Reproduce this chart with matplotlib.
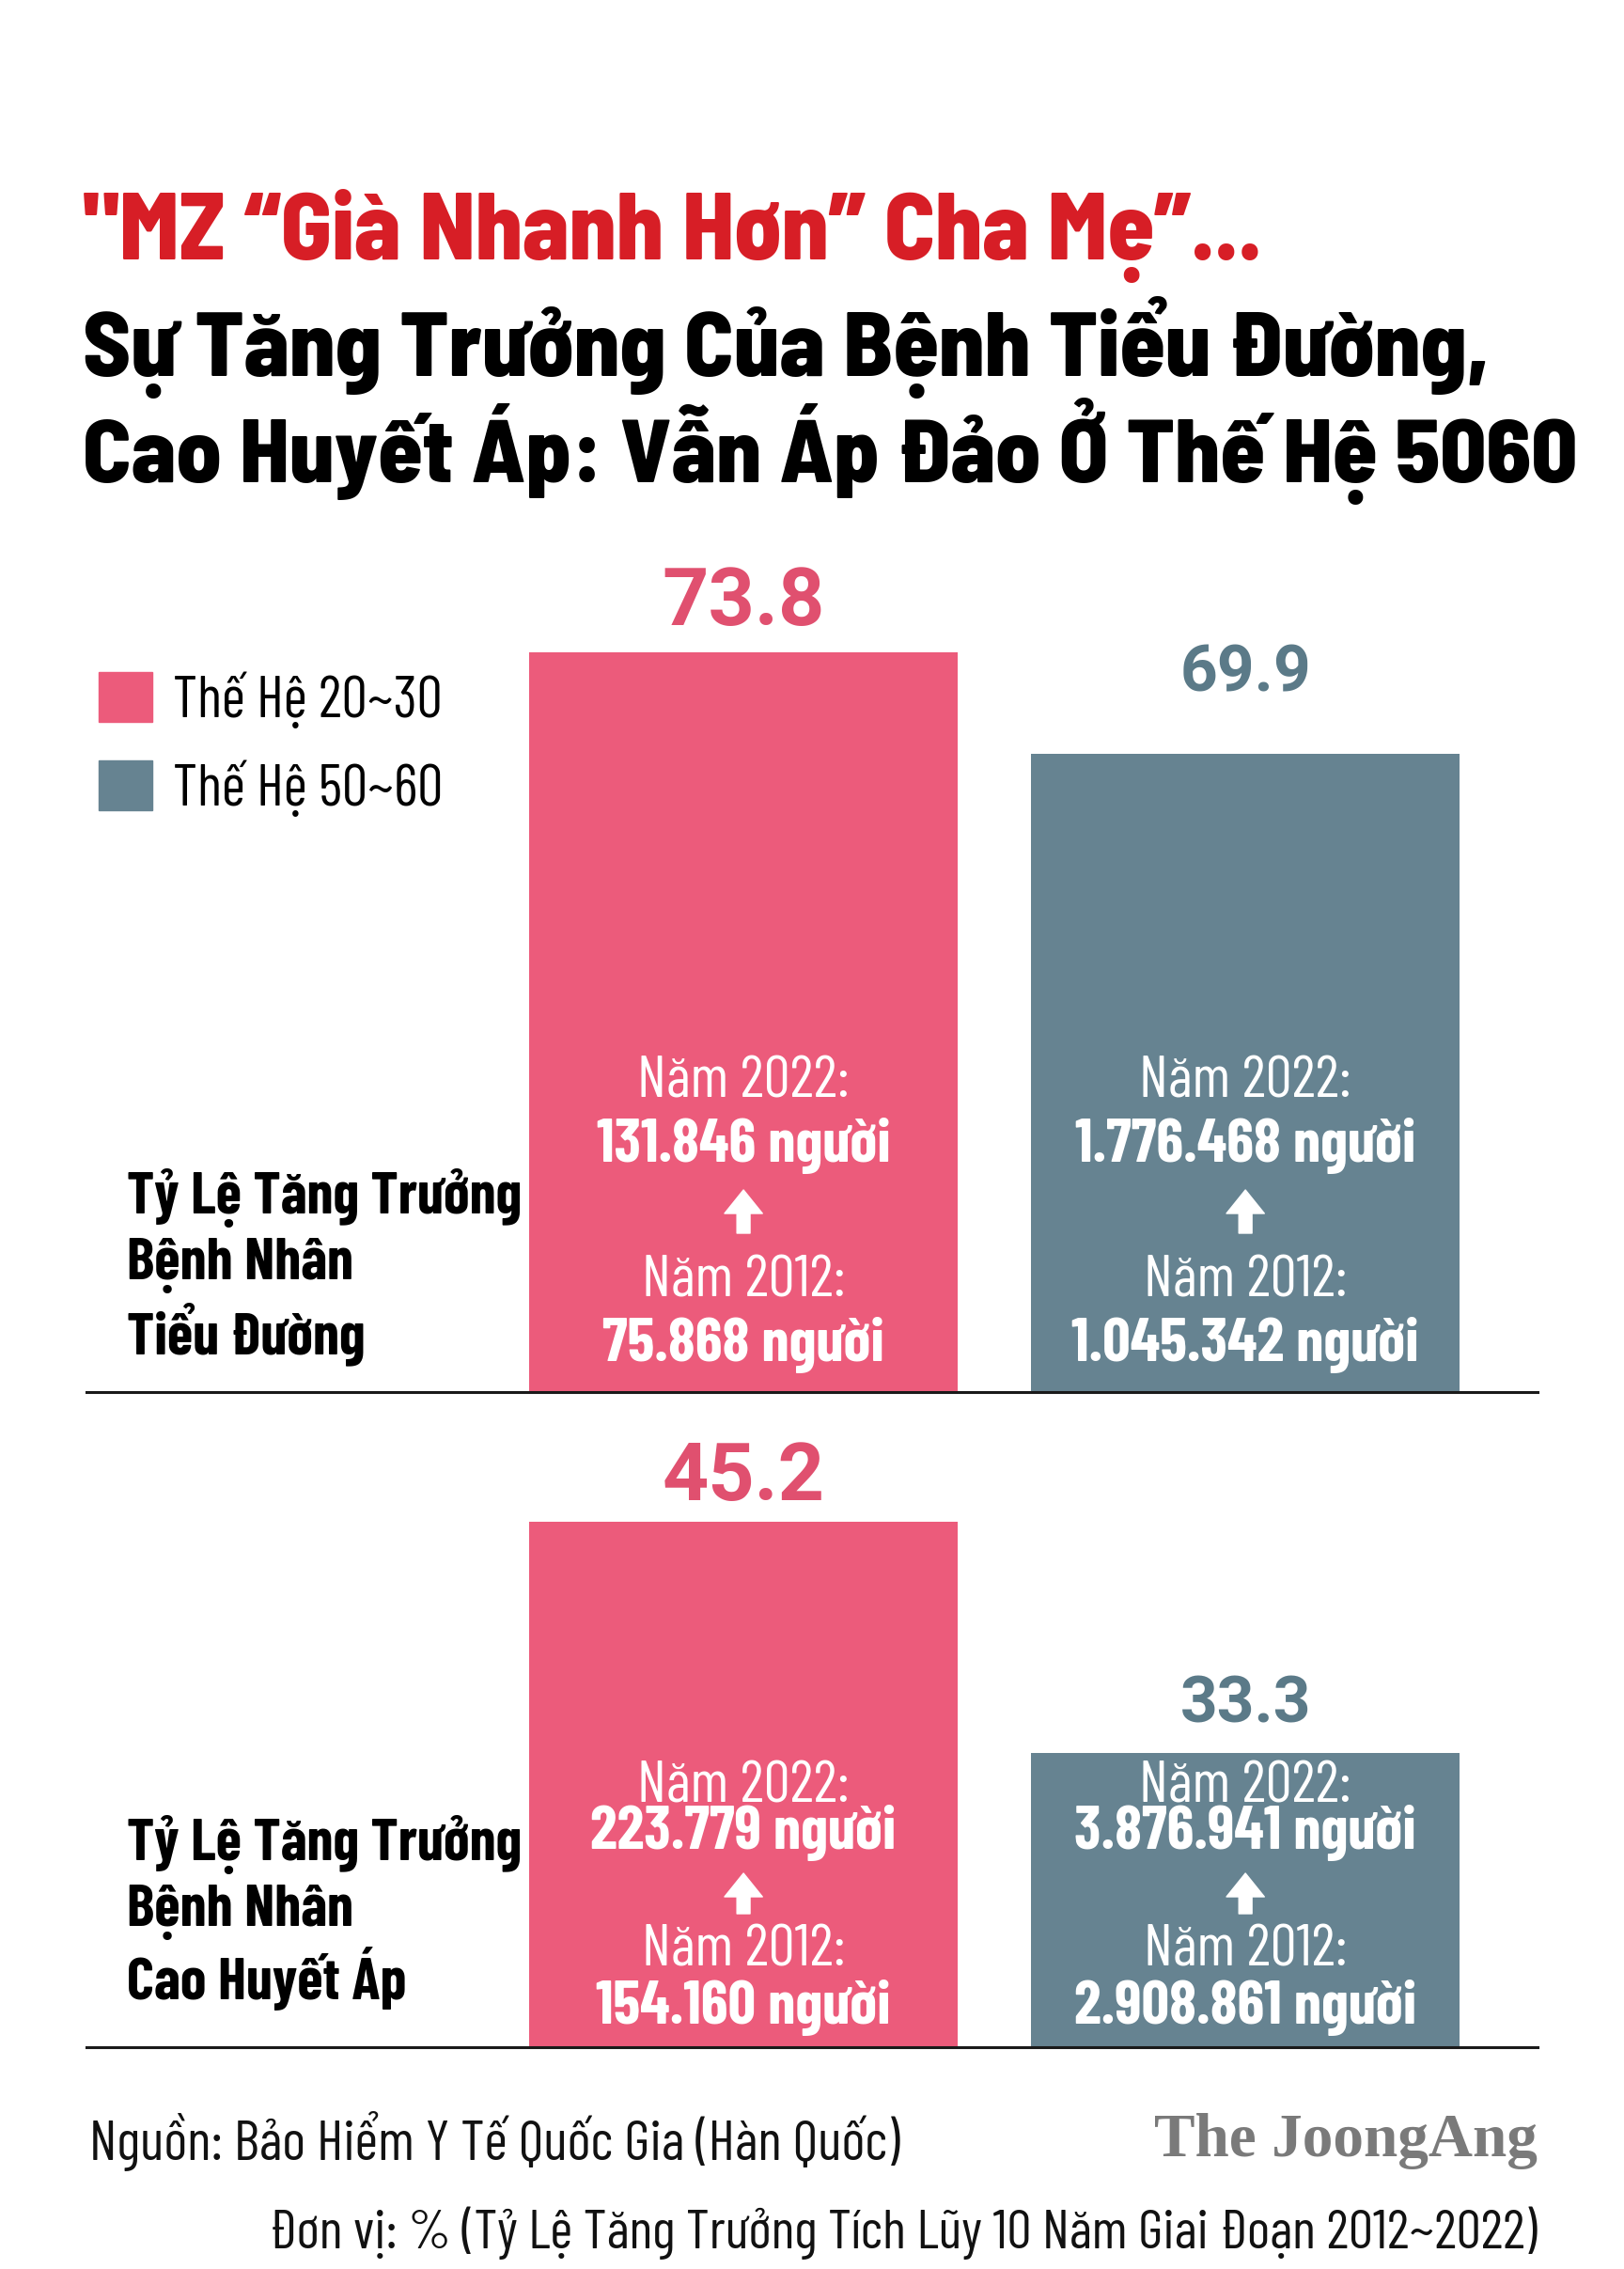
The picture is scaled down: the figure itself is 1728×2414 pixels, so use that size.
import matplotlib
matplotlib.use('Agg')
import matplotlib.pyplot as plt
import matplotlib.transforms as mtransforms

# data
groups = ['Thế Hệ 20~30', 'Thế Hệ 50~60']
diabetes_growth = [73.8, 69.9]
hypertension_growth = [45.2, 33.3]
diabetes_2022 = ['131.846', '1.776.468']
diabetes_2012 = ['75.868', '1.045.342']
hyper_2022 = ['223.779', '3.876.941']
hyper_2012 = ['154.160', '2.908.861']
panel_names = ['Tỷ Lệ Tăng Trưởng\nBệnh Nhân\nTiểu Đường',
               'Tỷ Lệ Tăng Trưởng\nBệnh Nhân\nCao Huyết Áp']

PINK = '#EC5B7B'
GREY = '#668391'
colors = [PINK, GREY]
label_colors = ['#E0506F', '#5B7A88']
NARROW = ['Barlow Condensed', 'Roboto Condensed', 'Liberation Sans Narrow', 'DejaVu Sans']
TITLE = ['Barlow Semi Condensed', 'Be Vietnam Pro', 'DejaVu Sans']
NUM = ['Roboto', 'DejaVu Sans']

W, H = 1728, 2414
fig = plt.figure(figsize=(W / 100, H / 100), dpi=100)
fig.patch.set_facecolor('white')


def fy(y):
    return 1 - y / H


# titles
fig.text(88 / W, fy(251), '"MZ \u201cGià Nhanh Hơn\u201d Cha Mẹ\u201d...', family=TITLE,
         weight='heavy', fontsize=72, color='#D71E26', va='center', ha='left')
fig.text(88 / W, fy(369), 'Sự Tăng Trưởng Của Bệnh Tiểu Đường,', family=TITLE,
         weight='heavy', fontsize=70, color='black', va='center', ha='left')
fig.text(88 / W, fy(480), 'Cao Huyết Áp: Vẫn Áp Đảo Ở Thế Hệ 5060', family=TITLE,
         weight='heavy', fontsize=69, color='black', va='center', ha='left')


def panel(top_px, bottom_px, ylim, growth, y2022, y2012, name, label_off, label_size,
          txt_y, arrow_y, name_y):
    ax = fig.add_axes([92 / W, fy(bottom_px), (1636 - 92) / W, (bottom_px - top_px) / H])
    ax.bar([0, 1], growth, width=0.854, color=colors)
    ax.set_xlim(-1.309, 1.582)
    ax.set_ylim(*ylim)
    for s in ['top', 'right', 'left']:
        ax.spines[s].set_visible(False)
    ax.spines['bottom'].set_linewidth(2.2)
    ax.spines['bottom'].set_color('#1a1a1a')
    ax.set_xticks([])
    ax.set_yticks([])
    ax.patch.set_alpha(0)

    for i, v in enumerate(growth):
        ax.annotate(f'{v}', (i, v), xytext=(0, label_off[i]), textcoords='offset pixels',
                    ha='center', va='baseline', fontsize=label_size[i], weight='bold',
                    color=label_colors[i], family=NUM)

    tr = mtransforms.blended_transform_factory(ax.transData, fig.transFigure)
    for i in range(2):
        ax.text(i, fy(txt_y[0]), 'Năm 2022:', transform=tr, ha='center', va='center',
                fontsize=45, color='white', family=NARROW)
        ax.text(i, fy(txt_y[1]), f'{y2022[i]} người', transform=tr, ha='center', va='center',
                fontsize=47, color='white', weight='bold', family=NARROW)
        ax.text(i, fy(txt_y[2]), 'Năm 2012:', transform=tr, ha='center', va='center',
                fontsize=45, color='white', family=NARROW)
        ax.text(i, fy(txt_y[3]), f'{y2012[i]} người', transform=tr, ha='center', va='center',
                fontsize=47, color='white', weight='bold', family=NARROW)
        ax.annotate('', xy=(i, fy(arrow_y[0])), xytext=(i, fy(arrow_y[1])),
                    xycoords=tr, textcoords=tr,
                    arrowprops=dict(facecolor='white', edgecolor='white', width=10,
                                    headwidth=29, headlength=18, shrink=0))

    for j, line in enumerate(name.split('\n')):
        fig.text(135 / W, fy(name_y[j]), line, family=NARROW, weight='bold',
                 fontsize=45, color='black', ha='left', va='center')
    return ax


ax1 = panel(570, 1481, (45.38, 78.28), diabetes_growth, diabetes_2022, diabetes_2012,
            panel_names[0], [29, 67], [62, 50], [1151, 1219, 1364, 1431], [1266, 1312],
            [1274, 1347, 1419])
ax2 = panel(1520, 2178, (18.16, 49.99), hypertension_growth, hyper_2022, hyper_2012,
            panel_names[1], [23, 33], [62, 50], [1902, 1950, 2076, 2136], [1993, 2036],
            [1962, 2035, 2105])

# legend
handles = [plt.Rectangle((0, 0), 1, 1, color=c) for c in colors]
leg = fig.legend(handles, groups, loc='upper left', bbox_to_anchor=(105 / W, fy(714)),
                 frameon=False, borderpad=0, borderaxespad=0, handlelength=0.94,
                 handleheight=0.94, handletextpad=0.36, labelspacing=0.55,
                 prop={'family': NARROW, 'size': 44})

# footer
fig.text(95 / W, fy(2278), 'Nguồn: Bảo Hiểm Y Tế Quốc Gia (Hàn Quốc)', family=NARROW,
         fontsize=43, color='#111111', ha='left', va='center')
fig.text(1636 / W, fy(2278), 'The JoongAng', family=['Liberation Serif', 'DejaVu Serif'],
         weight='bold', fontsize=47, color='#7a7a7a', ha='right', va='center')
fig.text(1636 / W, fy(2376), 'Đơn vị: % (Tỷ Lệ Tăng Trưởng Tích Lũy 10 Năm Giai Đoạn 2012~2022)',
         family=NARROW, fontsize=42, color='#111111', ha='right', va='center')

fig.savefig('out.png', dpi=100, facecolor='white')
